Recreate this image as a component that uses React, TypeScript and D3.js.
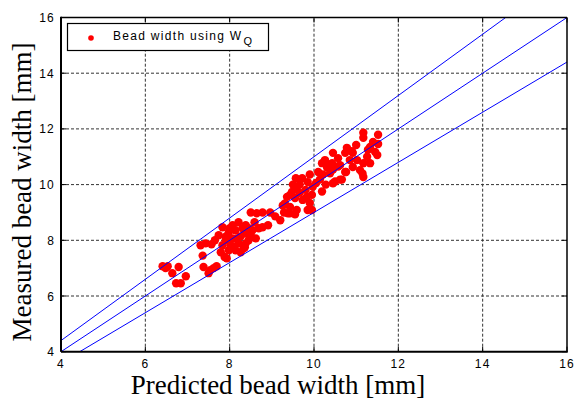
import React from "react";
import * as d3 from "d3";

const W = 575;
const H = 401;

const xTicks = [4, 6, 8, 10, 12, 14, 16];
const yTicks = [4, 6, 8, 10, 12, 14, 16];
const lineSlopes = [1.1, 1.0, 0.9];

const predicted: number[] = [
  6.41, 6.53, 6.64, 6.79, 6.73, 6.84, 6.96, 6.48,
  7.31, 7.43, 7.57, 7.36, 7.38, 7.50, 7.62, 7.54, 7.69, 7.88,
  7.74, 7.83, 7.91, 7.98, 8.02, 8.07, 8.14, 8.21, 8.26, 8.31, 8.38, 8.14, 7.98, 7.93,
  8.26, 8.36, 8.45, 8.50, 8.54, 8.62, 8.69, 8.78, 8.50, 8.64, 8.78, 8.38, 7.83, 8.07,
  8.21, 7.65, 8.33, 8.09, 7.79, 8.17, 7.91, 8.00, 8.45, 8.59, 8.36,
  8.96, 9.08, 9.26, 9.38, 9.20, 8.91,
  9.50, 9.59, 9.66, 9.83, 9.97, 10.14, 10.21, 10.19, 10.38, 10.45, 10.57, 10.66, 10.50,
  9.31, 9.36, 9.43, 9.59, 9.85, 9.73, 9.90, 9.55, 9.48, 9.57, 9.72, 9.85, 9.95, 10.05,
  10.10, 9.80, 9.43, 9.66, 9.90, 10.28, 10.31, 9.95, 9.29, 9.43, 9.55,
  11.17, 11.17, 11.52, 11.40, 11.33, 11.45, 11.50, 11.26, 11.17, 11.33, 10.78, 10.74,
  10.85, 10.62, 10.45, 10.43, 10.92, 11.17, 10.45, 11.02, 11.09, 10.92, 10.57, 10.76,
  11.00, 11.28, 11.52, 10.26, 10.19, 10.38, 10.74, 10.62, 11.15, 10.90,
];

const measured: number[] = [
  7.07, 7.07, 6.82, 7.04, 6.46, 6.46, 6.71, 7.00,
  7.82, 7.89, 7.86, 7.45, 7.04, 6.82, 7.00, 6.93, 7.07, 7.40,
  8.18, 8.47, 8.00, 8.29, 7.82, 8.07, 8.36, 7.89, 8.14, 8.43, 8.54, 7.64, 7.64, 7.35,
  7.57, 7.75, 8.00, 8.18, 8.36, 8.07, 8.43, 8.47, 9.00, 8.97, 9.00, 7.89, 7.82, 8.54,
  8.65, 8.00, 7.71, 7.78, 7.57, 8.07, 8.14, 8.43, 8.43, 8.65, 8.25,
  9.00, 8.86, 9.25, 8.97, 8.72, 8.54,
  10.00, 9.89, 9.71, 9.56, 9.92, 10.18, 10.36, 9.75, 10.72, 10.54, 10.65, 10.18, 10.11,
  9.32, 9.56, 9.20, 9.09, 9.09, 9.45, 9.34, 9.52, 9.74, 10.23, 10.23, 10.09, 9.63, 10.06,
  10.45, 9.81, 9.63, 10.00, 10.36, 10.00, 10.61, 9.09, 9.00, 8.97, 8.93,
  11.86, 11.68, 11.79, 11.53, 11.35, 11.17, 11.06, 11.00, 10.77, 10.77, 11.32, 11.14,
  10.88, 10.70, 11.14, 10.77, 11.14, 10.27, 10.05, 10.88, 10.52, 10.63, 10.95, 10.45,
  11.42, 11.25, 11.46, 10.88, 10.77, 10.41, 10.45, 10.18, 10.40, 11.20,
];

const margin = { left: 61, right: 8, top: 17.5, bottom: 49.3 };

export default function App() {
  const x = d3.scaleLinear().domain([4, 16]).range([margin.left, W - margin.right]);
  const y = d3.scaleLinear().domain([4, 16]).range([H - margin.bottom, margin.top]);
  const [x0, x1] = x.range();
  const [y0, y1] = y.range();

  const pts = predicted.map((p, i) => ({ p, m: measured[i] }));

  const lineGen = d3
    .line<[number, number]>()
    .x((d) => x(d[0]))
    .y((d) => y(d[1]));

  const refLines = lineSlopes.map((k) => {
    const xa = Math.max(4, 4 / k);
    const xb = Math.min(16, 16 / k);
    return lineGen([
      [xa, k * xa],
      [xb, k * xb],
    ] as [number, number][]);
  });

  const tickFont = "'Liberation Sans', Arial, sans-serif";
  const titleFont = "'Liberation Serif', 'Times New Roman', serif";

  return (
    <svg
      width={W}
      height={H}
      style={{ position: "absolute", left: 0, top: 0, background: "#fff" }}
    >
      <defs>
        <clipPath id="plotclip">
          <rect x={x0} y={y1} width={x1 - x0} height={y0 - y1} />
        </clipPath>
      </defs>
      {xTicks
        .filter((t) => t > 4 && t < 16)
        .map((t) => (
          <line
            key={"gx" + t}
            x1={x(t)}
            x2={x(t)}
            y1={y0}
            y2={y1}
            stroke="#333"
            strokeWidth={1}
            strokeDasharray="3,2"
          />
        ))}
      {yTicks
        .filter((t) => t > 4 && t < 16)
        .map((t) => (
          <line
            key={"gy" + t}
            x1={x0}
            x2={x1}
            y1={y(t)}
            y2={y(t)}
            stroke="#333"
            strokeWidth={1}
            strokeDasharray="3,2"
          />
        ))}
      {xTicks.map((t) => (
        <g key={"tx" + t}>
          <line x1={x(t)} x2={x(t)} y1={y0} y2={y0 - 5} stroke="#000" />
          <line x1={x(t)} x2={x(t)} y1={y1} y2={y1 + 5} stroke="#000" />
        </g>
      ))}
      {yTicks.map((t) => (
        <g key={"ty" + t}>
          <line x1={x0} x2={x0 + 5} y1={y(t)} y2={y(t)} stroke="#000" />
          <line x1={x1} x2={x1 - 5} y1={y(t)} y2={y(t)} stroke="#000" />
        </g>
      ))}
      <g clipPath="url(#plotclip)">
        {pts.map((d, i) => (
          <circle key={i} cx={x(d.p)} cy={y(d.m)} r={4.2} fill="#ff0000" />
        ))}
        {refLines.map((dstr, i) => (
          <path key={i} d={dstr || ""} fill="none" stroke="#0000ff" strokeWidth={1} />
        ))}
      </g>
      <line x1={x0} x2={x1} y1={y1} y2={y1} stroke="#000" strokeWidth={1.5} />
      <line x1={x1} x2={x1} y1={y1} y2={y0} stroke="#000" strokeWidth={1.5} />
      <line x1={x0} x2={x1 + 0.75} y1={y0} y2={y0} stroke="#000" strokeWidth={2} />
      <line x1={x0} x2={x0} y1={y1 - 0.75} y2={y0} stroke="#000" strokeWidth={2} />
      {xTicks.map((t) => (
        <text
          key={"lx" + t}
          x={x(t)}
          y={y0 + 16}
          textAnchor="middle"
          fontFamily={tickFont}
          fontSize={12}
          letterSpacing={1.2}
        >
          {t}
        </text>
      ))}
      {yTicks.map((t) => (
        <text
          key={"ly" + t}
          x={x0 - 6}
          y={y(t) + 4.5}
          textAnchor="end"
          fontFamily={tickFont}
          fontSize={12}
          letterSpacing={1.2}
        >
          {t}
        </text>
      ))}
      <rect x={67.5} y={23.5} width={201} height={27} fill="#fff" stroke="#000" strokeWidth={1.2} />
      <circle cx={91} cy={38} r={2.8} fill="#ff0000" />
      <text x={113} y={40} fontFamily={tickFont} fontSize={12} letterSpacing={1.3}>
        Bead width using W
        <tspan fontSize={11} dy={5} dx={1}>
          Q
        </tspan>
      </text>
      <text
        x={278}
        y={394}
        textAnchor="middle"
        fontFamily={titleFont}
        fontSize={27}
      >
        Predicted bead width [mm]
      </text>
      <text
        transform={`translate(31, 192) rotate(-90)`}
        textAnchor="middle"
        fontFamily={titleFont}
        fontSize={27}
      >
        Measured bead width [mm]
      </text>
    </svg>
  );
}
